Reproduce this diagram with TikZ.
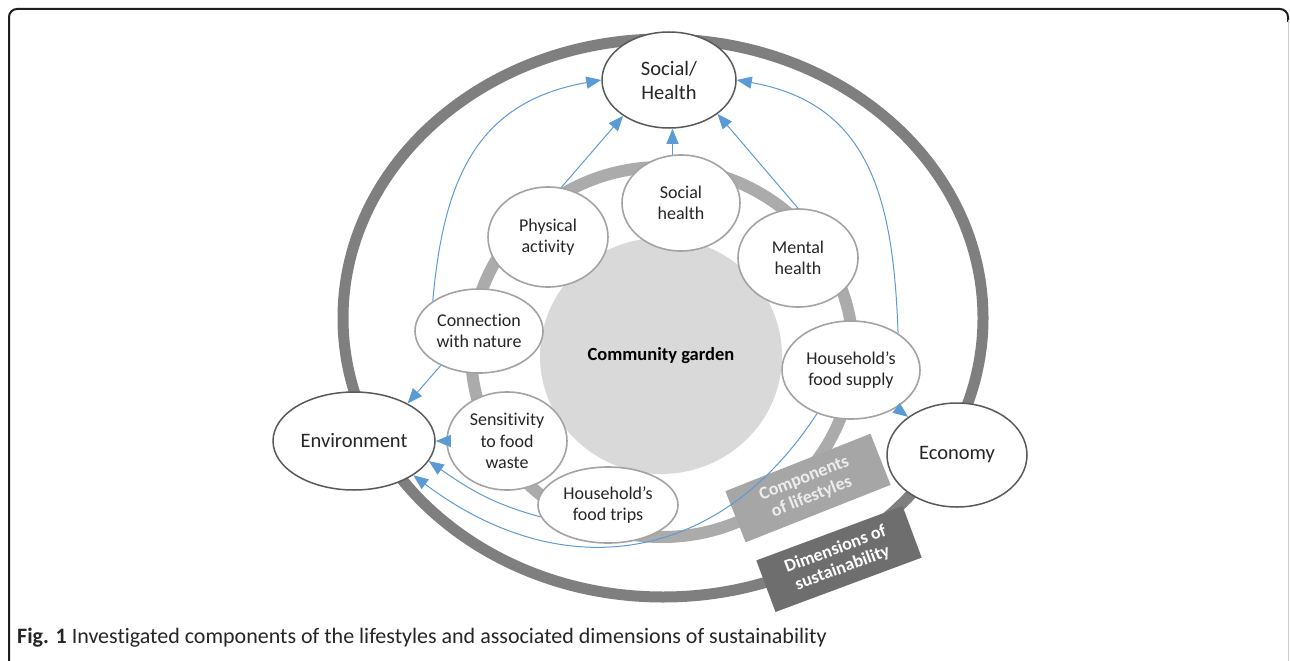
\documentclass[tikz,border=0pt]{standalone}
\usepackage{fontspec}
\setmainfont{Carlito}[Ligatures=NoCommon]
\usetikzlibrary{shapes.geometric,arrows.meta}
\definecolor{outerring}{HTML}{7F7F7F}
\definecolor{innerring}{HTML}{ABABAB}
\definecolor{gardenfill}{HTML}{D9D9D9}
\definecolor{arrowblue}{HTML}{5B9BD5}
\definecolor{compbox}{HTML}{A6A6A6}
\definecolor{dimbox}{HTML}{6E6E6E}
\definecolor{innerborder}{HTML}{A3A3A3}
\definecolor{outerborder}{HTML}{595959}
\definecolor{txt}{HTML}{262626}
\begin{document}
\begin{tikzpicture}[x=1pt,y=-1pt,
  comp/.style={ellipse, draw=innerborder, line width=1.6pt, fill=white, inner sep=0pt, align=center, text=txt, font=\fontsize{18}{21.5}\selectfont},
  dimnode/.style={ellipse, draw=outerborder, line width=1.5pt, fill=white, inner sep=0pt, align=center, text=txt, font=\fontsize{20.5}{24}\selectfont},
  link/.style={draw=arrowblue, line width=1pt, -{Triangle[length=15pt,width=12pt]}},
  banner/.style={minimum width=156pt, minimum height=55pt, inner sep=0pt, align=center, font=\bfseries\fontsize{18}{20}\selectfont}]
\useasboundingbox (0,0) rectangle (1290,661);
\fill[white] (0,0) rectangle (1290,661);
% frame
\draw[line width=2pt, black!88, rounded corners=8pt] (9,661) -- (9,9) -- (1288,9) -- (1288,22);
\draw[line width=1pt, black!20] (1288,20) -- (1288,661);
% rings
\draw[outerring, line width=11pt] (663,318) ellipse [x radius=320pt, y radius=279pt];
\draw[innerring, line width=12pt] (662,352) ellipse [x radius=191pt, y radius=185pt];
% centre
\node[ellipse, fill=gardenfill, minimum width=242pt, minimum height=236pt, inner sep=0pt, text=black, font=\bfseries\fontsize{18.5}{22}\selectfont] (cg) at (661,356) {Community garden};
% dimension nodes
\node[dimnode, minimum width=134pt, minimum height=96pt] (SH) at (669,80) {Social/\\Health};
\node[dimnode, minimum width=162pt, minimum height=98pt] (env) at (354,441) {Environment};
\node[dimnode, minimum width=140pt, minimum height=104pt] (eco) at (957,455) {Economy};
% component nodes
\node[comp, minimum width=118pt, minimum height=96pt] (shh) at (681,203) {Social\\health};
\node[comp, minimum width=120pt, minimum height=100pt] (pa) at (548,237) {Physical\\activity};
\node[comp, minimum width=120pt, minimum height=98pt] (mh) at (798,258) {Mental\\health};
\node[comp, minimum width=128pt, minimum height=84pt] (cn) at (479,331) {Connection\\with nature};
\node[comp, minimum width=138pt, minimum height=98pt] (fs) at (851,370) {Household’s\\food supply};
\node[comp, minimum width=120pt, minimum height=98pt] (sw) at (507,441) {Sensitivity\\to food\\waste};
\node[comp, minimum width=140pt, minimum height=76pt] (ft) at (608,505) {Household’s\\food trips};
% banners
\node[banner, fill=compbox, text=white!93!black, rotate=21.6] (cl) at (808,488) {Components\\of lifestyles};
\node[banner, fill=dimbox, text=white, rotate=20.4] (ds) at (839,559) {Dimensions of\\sustainability};
% connectors
\draw[link] (shh.100) -- (shh.100 |- SH.south);
\draw[link] (pa.75) -- (SH.218);
\draw[link] (mh.north) -- (SH.-35);
\draw[link] (cn.147) to[out=85,in=190,looseness=1.15] (SH.west);
\draw[link] (fs.38) to[out=92,in=-10,looseness=1.15] (SH.east);
\draw[link] (fs.-40) -- (eco.142);
\draw[link] (cn.222) -- (env.35);
\draw[link] (sw.west) -- (env.east);
\draw[link] (ft.190) to[out=165,in=-35] (env.-15);
\draw[link] (fs.232) to[out=237,in=-37,looseness=1.15] (env.-30);
% caption
\node[anchor=west, inner sep=0pt, text=txt, font=\fontsize{22}{24}\selectfont] (cap) at (17,638) {\textbf{Fig. 1} Investigated components of the lifestyles and associated dimensions of sustainability};
\end{tikzpicture}
\end{document}
